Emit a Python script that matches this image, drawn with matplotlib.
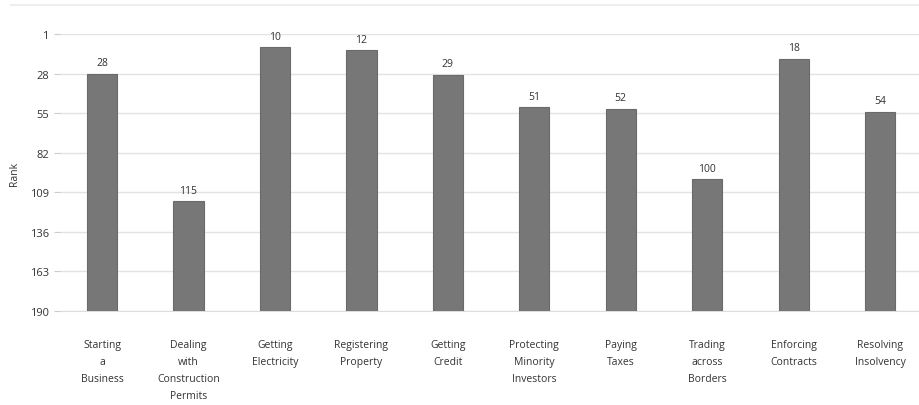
import matplotlib.pyplot as plt
from matplotlib.lines import Line2D

# Doing Business rankings
categories = ['Starting\na\nBusiness', 'Dealing\nwith\nConstruction\nPermits',
              'Getting\nElectricity', 'Registering\nProperty', 'Getting\nCredit',
              'Protecting\nMinority\nInvestors', 'Paying\nTaxes', 'Trading\nacross\nBorders',
              'Enforcing\nContracts', 'Resolving\nInsolvency']
ranks = [28, 115, 10, 12, 29, 51, 52, 100, 18, 54]
yticks = [1, 28, 55, 82, 109, 136, 163, 190]

plt.rcParams['font.family'] = ['Open Sans', 'DejaVu Sans']

fig = plt.figure(figsize=(9.19, 4.06), dpi=100)
ax = fig.add_axes([0.0653, 0.2315, 0.9347, 0.6823])

x = list(range(len(categories)))
heights = [r - 190 for r in ranks]
ax.bar(x, heights, bottom=190, width=0.35, color='#777777', edgecolor='#6a6a6a', linewidth=0.8, zorder=3)

for xi, r in zip(x, ranks):
    ax.annotate(str(r), (xi, r), xytext=(0, 4), textcoords='offset points',
                ha='center', va='bottom', fontsize=7.5, color='#333333')

ax.set_ylim(190, 1)
ax.set_xlim(-0.486, 9.45)
ax.set_yticks(yticks)
ax.set_yticklabels([str(t) for t in yticks], fontsize=8, color='#333333')
ax.set_xticks(x)
ax.set_xticklabels(categories, fontsize=7.5, color='#333333', linespacing=1.75, va='top')
ax.tick_params(axis='x', length=0, pad=20)
ax.tick_params(axis='y', length=4, color='#cccccc', pad=4)
ax.grid(axis='y', color='#e3e3e3', linewidth=1, zorder=0)
for s in ['top', 'right', 'left']:
    ax.spines[s].set_visible(False)
ax.spines['bottom'].set_color('#dddddd')

ax.set_ylabel('Rank', fontsize=7.5, color='#333333', labelpad=7)

fig.add_artist(Line2D([0.012, 1.0], [0.985, 0.985], transform=fig.transFigure, color='#eeeeee', linewidth=1.5))

fig.savefig('out.png', dpi=100)
